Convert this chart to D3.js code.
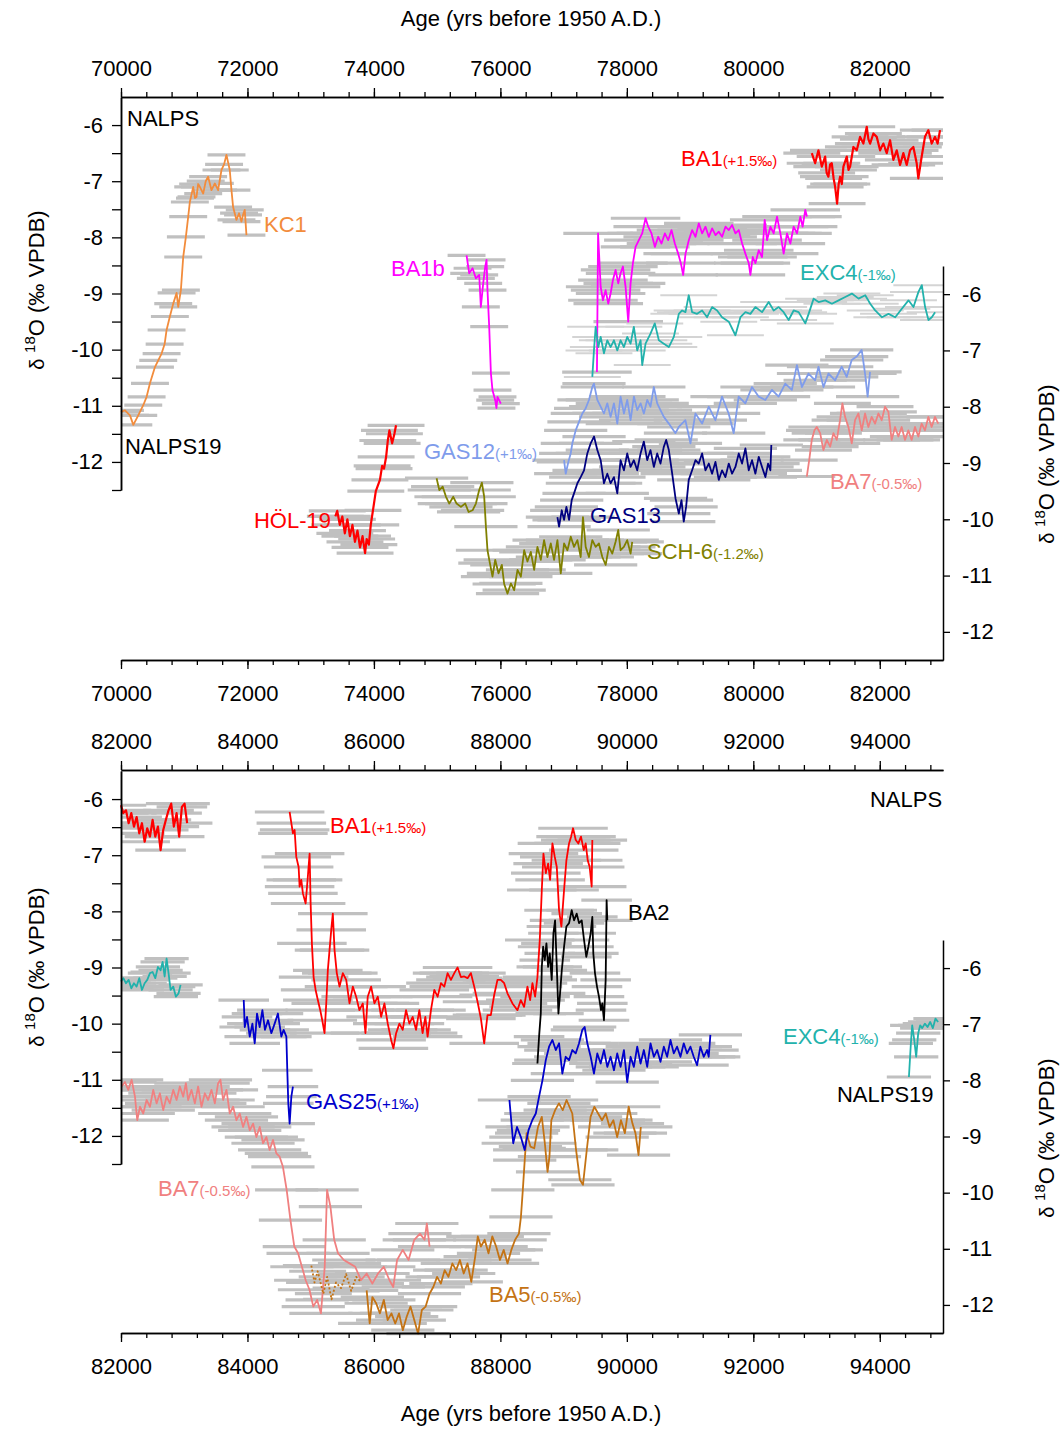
<!DOCTYPE html>
<html>
<head>
<meta charset="utf-8">
<script src="https://cdn.jsdelivr.net/npm/d3@7"></script>
<style>
  body { margin: 0; background: #fff; }
  svg { font-family: Arial, "Liberation Sans", sans-serif; }
</style>
</head>
<body>
<svg id="chart" width="1062" height="1432"></svg>
<script>
// all series are [age (yrs BP), d18O (permil VPDB)]

// ---------- upper panel (70-83 ka) ----------
const kc1 = [[70000,-11.11],[70063,-11.08],[70142,-11.17],[70195,-11.34],[70273,-11.17],[70352,-10.99],[70405,-10.84],[70458,-10.60],[70537,-10.31],[70589,-10.19],[70642,-10.07],[70690,-9.90],[70721,-9.65],[70773,-9.41],[70826,-9.18],[70879,-8.99],[70905,-9.24],[70947,-8.94],[70984,-8.35],[71026,-7.99],[71063,-7.63],[71089,-7.37],[71142,-7.10],[71170,-7.30],[71194,-7.28],[71220,-7.05],[71247,-7.10],[71300,-7.22],[71340,-7.00],[71378,-6.92],[71431,-7.16],[71484,-7.04],[71536,-7.16],[71589,-6.80],[71630,-6.70],[71668,-6.53],[71720,-6.80],[71747,-7.16],[71773,-7.46],[71826,-7.69],[71867,-7.57],[71905,-7.72],[71930,-7.60],[71957,-7.51],[71984,-7.96]]

const ba1bTop = [[75465,-8.32],[75507,-8.64],[75560,-8.55],[75612,-8.73],[75665,-8.67],[75691,-9.24],[75728,-8.82],[75760,-8.52],[75781,-8.40],[75796,-8.94],[75823,-9.59],[75850,-10.42],[75875,-10.72],[75918,-10.90],[75938,-11.04],[75954,-10.84],[76007,-10.96]]

const ba1bLate = [[77527,-10.40],[77545,-7.93],[77586,-8.88],[77622,-9.12],[77664,-8.94],[77706,-9.18],[77743,-9.00],[77780,-8.76],[77822,-8.58],[77864,-8.82],[77901,-8.64],[77938,-8.52],[77980,-8.88],[78022,-9.50],[78059,-8.82],[78096,-8.46],[78138,-8.17],[78190,-8.05],[78243,-7.93],[78296,-7.66],[78338,-7.81],[78390,-7.93],[78443,-8.17],[78496,-7.99],[78548,-8.11],[78601,-7.93],[78654,-8.05],[78706,-7.87],[78759,-8.11],[78812,-8.29],[78854,-8.46],[78891,-8.67],[78928,-8.29],[78980,-8.05],[79033,-7.87],[79086,-7.99],[79138,-7.75],[79191,-7.93],[79244,-7.81],[79296,-7.99],[79349,-7.84],[79402,-7.96],[79454,-7.90],[79507,-7.99],[79560,-7.81],[79612,-7.87],[79665,-7.78],[79718,-7.93],[79770,-7.87],[79823,-8.11],[79875,-8.29],[79928,-8.46],[79954,-8.67],[79991,-8.35],[80033,-8.46],[80086,-8.23],[80138,-8.35],[80180,-7.69],[80217,-8.05],[80270,-7.81],[80322,-7.93],[80375,-7.63],[80428,-7.93],[80480,-8.29],[80533,-7.93],[80586,-8.11],[80638,-7.81],[80691,-7.93],[80744,-7.63],[80780,-7.81],[80822,-7.51],[80848,-7.63]]

const ba1Top = [[80925,-6.50],[80978,-6.68],[81030,-6.45],[81083,-6.74],[81136,-6.56],[81160,-6.85],[81188,-6.92],[81215,-6.70],[81241,-6.68],[81270,-6.95],[81294,-7.10],[81325,-7.40],[81350,-7.05],[81373,-6.92],[81400,-7.05],[81425,-6.74],[81478,-6.56],[81505,-6.80],[81531,-6.74],[81583,-6.39],[81636,-6.45],[81689,-6.21],[81741,-6.33],[81794,-6.03],[81820,-6.25],[81847,-6.33],[81899,-6.15],[81952,-6.21],[82005,-6.45],[82057,-6.33],[82110,-6.50],[82163,-6.27],[82215,-6.62],[82268,-6.45],[82321,-6.71],[82373,-6.50],[82426,-6.71],[82479,-6.45],[82531,-6.39],[82584,-6.68],[82610,-6.95],[82663,-6.56],[82715,-6.21],[82768,-6.09],[82821,-6.33],[82874,-6.21],[82915,-6.33],[82953,-6.09]]

const hol19 = [[73390,-9.95],[73420,-9.85],[73460,-10.10],[73500,-9.95],[73540,-10.25],[73580,-10.00],[73620,-10.30],[73660,-10.10],[73700,-10.40],[73740,-10.20],[73780,-10.50],[73820,-10.30],[73860,-10.60],[73885,-10.35],[73920,-10.45],[73950,-10.10],[73985,-9.84],[74030,-9.50],[74095,-9.30],[74130,-9.05],[74160,-9.10],[74193,-8.89],[74220,-8.60],[74245,-8.42],[74288,-8.65],[74324,-8.48],[74350,-8.33]]

const sch6 = [[74991,-9.27],[75034,-9.48],[75087,-9.42],[75140,-9.60],[75192,-9.72],[75255,-9.60],[75307,-9.72],[75376,-9.78],[75444,-9.72],[75497,-9.87],[75560,-9.84],[75613,-9.72],[75665,-9.48],[75707,-9.35],[75744,-9.60],[75771,-10.13],[75796,-10.55],[75834,-10.78],[75875,-11.02],[75918,-10.72],[75970,-10.96],[76023,-10.81],[76060,-11.15],[76113,-11.32],[76166,-11.14],[76218,-11.26],[76271,-10.90],[76324,-11.02],[76376,-10.55],[76428,-10.75],[76481,-10.58],[76534,-10.90],[76586,-10.49],[76639,-10.72],[76691,-10.37],[76744,-10.67],[76797,-10.43],[76849,-10.72],[76902,-10.37],[76955,-10.96],[77007,-10.43],[77060,-10.55],[77113,-10.31],[77165,-10.49],[77218,-10.37],[77270,-10.67],[77306,-9.96],[77349,-10.49],[77401,-10.67],[77454,-10.37],[77507,-10.49],[77559,-10.43],[77612,-10.67],[77665,-10.81],[77717,-10.49],[77770,-10.61],[77822,-10.40],[77864,-10.19],[77901,-10.55],[77953,-10.49],[78006,-10.37],[78059,-10.61],[78085,-10.40]]

const gas12 = [[77007,-8.95],[77033,-9.19],[77075,-8.98],[77112,-8.83],[77138,-8.65],[77191,-8.42],[77243,-8.27],[77296,-8.12],[77348,-8.03],[77401,-7.88],[77454,-7.65],[77480,-7.59],[77533,-7.88],[77586,-8.00],[77638,-8.12],[77691,-7.94],[77743,-8.18],[77796,-7.94],[77849,-8.30],[77901,-7.82],[77954,-8.12],[78006,-7.88],[78059,-8.24],[78112,-7.82],[78164,-8.06],[78217,-7.94],[78269,-8.12],[78322,-7.88],[78374,-8.00],[78427,-7.65],[78480,-7.94],[78532,-8.06],[78585,-8.18],[78664,-8.30],[78769,-8.47],[78821,-8.36],[78926,-8.24],[79006,-8.65],[79085,-8.12],[79190,-8.30],[79295,-8.00],[79400,-8.24],[79505,-7.82],[79610,-8.12],[79690,-8.47],[79768,-7.82],[79874,-7.94],[79979,-7.65],[80084,-7.82],[80190,-7.88],[80295,-7.70],[80400,-7.82],[80505,-7.59],[80610,-7.70],[80689,-7.26],[80768,-7.65],[80873,-7.41],[80978,-7.53],[81031,-7.29],[81110,-7.65],[81188,-7.41],[81294,-7.53],[81398,-7.29],[81477,-7.47],[81556,-7.17],[81635,-7.11],[81714,-6.99],[81767,-7.41],[81808,-7.82],[81846,-7.38]]

const gas13 = [[76902,-9.96],[76928,-10.13],[76970,-9.84],[77007,-10.01],[77044,-9.78],[77086,-10.01],[77128,-9.66],[77165,-9.54],[77218,-9.36],[77270,-9.25],[77323,-9.13],[77375,-8.83],[77428,-8.65],[77481,-8.53],[77533,-8.77],[77586,-8.95],[77638,-9.36],[77691,-9.19],[77743,-9.36],[77796,-9.25],[77849,-9.54],[77901,-8.95],[77954,-9.13],[78006,-8.83],[78059,-9.07],[78111,-8.95],[78164,-9.13],[78217,-8.83],[78269,-8.62],[78322,-8.95],[78374,-8.77],[78427,-9.07],[78480,-8.83],[78532,-9.01],[78585,-8.71],[78622,-8.59],[78664,-8.77],[78717,-9.19],[78770,-9.63],[78822,-9.90],[78864,-9.66],[78900,-10.04],[78937,-9.78],[78979,-9.30],[79032,-9.13],[79085,-8.95],[79137,-9.01],[79190,-8.83],[79243,-9.13],[79296,-9.01],[79348,-9.19],[79401,-8.98],[79454,-9.30],[79506,-9.13],[79559,-9.25],[79612,-9.01],[79664,-9.19],[79717,-9.07],[79770,-8.83],[79822,-9.01],[79875,-8.74],[79928,-9.13],[79980,-8.95],[80033,-9.19],[80086,-8.89],[80138,-9.07],[80191,-9.25],[80233,-9.01],[80270,-9.13],[80285,-8.68]]

const exc4Top = [[77454,-7.47],[77480,-7.00],[77507,-6.58],[77549,-6.94],[77586,-6.76],[77638,-7.05],[77691,-6.82],[77743,-6.94],[77796,-6.82],[77849,-7.00],[77901,-6.82],[77954,-6.94],[78006,-6.76],[78059,-6.88],[78111,-6.58],[78164,-7.00],[78217,-6.82],[78243,-7.26],[78296,-6.88],[78374,-6.70],[78442,-6.52],[78506,-6.82],[78585,-6.88],[78664,-6.94],[78743,-6.76],[78822,-6.35],[78874,-6.29],[78927,-6.32],[78979,-6.02],[79032,-6.32],[79111,-6.35],[79190,-6.29],[79269,-6.41],[79348,-6.23],[79427,-6.29],[79506,-6.41],[79612,-6.49],[79717,-6.73],[79796,-6.41],[79875,-6.32],[79954,-6.35],[80033,-6.23],[80138,-6.32],[80243,-6.14],[80322,-6.29],[80401,-6.23],[80480,-6.32],[80559,-6.46],[80638,-6.29],[80717,-6.32],[80822,-6.52],[80875,-6.35],[80954,-6.08],[81033,-6.14],[81138,-6.11],[81243,-6.17],[81349,-6.11],[81454,-6.05],[81559,-5.99],[81665,-6.08],[81770,-6.02],[81849,-6.17],[81928,-6.29],[82033,-6.41],[82138,-6.35],[82244,-6.41],[82349,-6.26],[82454,-6.11],[82533,-6.23],[82612,-5.96],[82665,-5.84],[82717,-6.23],[82770,-6.46],[82823,-6.41],[82875,-6.32]]

const ba7Top = [[80846,-9.24],[80884,-8.95],[80925,-8.59],[80967,-8.42],[81004,-8.36],[81057,-8.47],[81109,-8.77],[81162,-8.59],[81215,-8.71],[81267,-8.47],[81320,-8.59],[81372,-8.24],[81409,-7.94],[81451,-8.18],[81504,-8.36],[81557,-8.65],[81609,-8.24],[81662,-8.12],[81715,-8.42],[81767,-8.12],[81820,-8.36],[81872,-8.18],[81925,-8.30],[81978,-8.12],[82030,-8.24],[82083,-8.00],[82136,-8.09],[82188,-8.59],[82241,-8.36],[82294,-8.53],[82346,-8.36],[82399,-8.59],[82452,-8.42],[82504,-8.59],[82557,-8.36],[82610,-8.53],[82662,-8.30],[82715,-8.42],[82768,-8.18],[82820,-8.36],[82873,-8.18],[82925,-8.30]]

// ---------- lower panel (82-95 ka) ----------
const ba1Early = [[82000,-6.11],[82036,-6.25],[82079,-6.20],[82121,-6.43],[82163,-6.25],[82205,-6.49],[82247,-6.32],[82289,-6.61],[82331,-6.43],[82374,-6.76],[82415,-6.52],[82458,-6.67],[82500,-6.37],[82542,-6.67],[82584,-6.49],[82626,-6.91],[82668,-6.55],[82710,-6.37],[82752,-6.20],[82794,-6.08],[82836,-6.49],[82879,-6.25],[82920,-6.67],[82963,-6.14],[83005,-6.08],[83046,-6.43]]

const ba1Late = [[84667,-6.23],[84694,-6.43],[84719,-6.61],[84746,-6.55],[84772,-7.03],[84809,-7.21],[84825,-7.56],[84851,-7.44],[84877,-7.68],[84920,-7.86],[84951,-7.44],[84983,-6.97],[84999,-7.86],[85019,-8.57],[85046,-9.17],[85078,-9.40],[85113,-9.58],[85151,-9.76],[85183,-9.94],[85219,-10.17],[85246,-9.64],[85271,-9.05],[85298,-8.69],[85325,-8.33],[85350,-8.04],[85377,-8.69],[85413,-9.10],[85456,-9.34],[85508,-9.10],[85562,-9.22],[85614,-9.64],[85666,-9.34],[85719,-9.52],[85771,-9.76],[85824,-9.64],[85866,-10.17],[85902,-9.52],[85956,-9.34],[86008,-9.64],[86061,-9.52],[86114,-9.88],[86166,-9.64],[86219,-10.00],[86272,-10.29],[86308,-10.44],[86351,-10.17],[86403,-10.00],[86455,-10.11],[86508,-9.76],[86561,-10.00],[86613,-9.88],[86666,-10.11],[86718,-9.76],[86770,-10.17],[86813,-9.88],[86849,-10.23],[86902,-9.76],[86955,-9.40],[87007,-9.52],[87060,-9.28],[87113,-9.34],[87165,-9.10],[87218,-9.22],[87271,-9.10],[87323,-9.00],[87376,-9.17],[87428,-9.16],[87481,-9.19],[87534,-9.10],[87586,-9.34],[87639,-9.61],[87692,-9.91],[87744,-10.35],[87796,-9.85],[87849,-9.85],[87902,-9.49],[87954,-9.22],[88007,-9.22],[88060,-9.28],[88112,-9.46],[88191,-9.64],[88270,-9.76],[88323,-9.58],[88375,-9.70],[88428,-9.34],[88470,-9.58],[88507,-9.28],[88549,-9.52],[88586,-9.17],[88623,-8.51],[88655,-7.62],[88681,-6.97],[88718,-7.32],[88755,-7.15],[88786,-7.44],[88823,-6.79],[88860,-7.03],[88892,-7.21],[88928,-7.98],[88965,-8.27],[89007,-7.62],[89044,-7.09],[89086,-6.79],[89118,-6.67],[89149,-6.52],[89192,-6.73],[89233,-6.79],[89275,-6.67],[89318,-6.91],[89349,-6.79],[89381,-7.09],[89412,-7.21],[89444,-7.56],[89454,-6.73]]

const ba2 = [[88586,-10.71],[88612,-10.23],[88639,-9.82],[88655,-8.99],[88676,-8.63],[88702,-8.87],[88728,-8.57],[88755,-8.99],[88781,-8.75],[88812,-9.22],[88839,-8.39],[88865,-8.16],[88892,-8.99],[88918,-9.82],[88944,-9.46],[88971,-9.05],[89007,-8.63],[89044,-8.27],[89086,-8.21],[89128,-7.98],[89165,-8.16],[89207,-8.04],[89244,-8.21],[89286,-8.16],[89323,-8.51],[89359,-8.81],[89391,-8.63],[89428,-8.39],[89454,-8.10],[89470,-8.75],[89496,-9.10],[89528,-9.34],[89559,-9.52],[89591,-9.76],[89612,-9.64],[89638,-9.94],[89665,-9.22],[89680,-7.80],[89691,-8.16]]

const exc4Early = [[82000,-6.24],[82037,-6.18],[82079,-6.27],[82121,-6.21],[82163,-6.36],[82205,-6.27],[82247,-6.33],[82289,-6.18],[82331,-6.39],[82374,-6.27],[82415,-6.21],[82458,-6.09],[82500,-6.07],[82542,-6.18],[82584,-5.98],[82626,-6.04],[82658,-5.89],[82690,-6.15],[82721,-5.83],[82752,-6.09],[82784,-6.39],[82826,-6.33],[82868,-6.51],[82910,-6.45],[82942,-6.30]]

const exc4Late = [[94461,-7.94],[94492,-7.34],[94513,-7.02],[94545,-7.28],[94576,-7.58],[94608,-7.16],[94639,-7.02],[94671,-7.07],[94713,-6.99],[94755,-7.05],[94797,-6.96],[94839,-7.07],[94881,-6.90],[94923,-6.96]]

const ba7Low = [[82011,-8.11],[82063,-8.03],[82115,-8.17],[82168,-7.99],[82221,-8.29],[82257,-8.71],[82300,-8.47],[82352,-8.59],[82405,-8.35],[82458,-8.47],[82510,-8.17],[82563,-8.41],[82615,-8.23],[82668,-8.53],[82721,-8.29],[82773,-8.41],[82826,-8.17],[82879,-8.35],[82931,-8.11],[82984,-8.29],[83026,-8.05],[83062,-8.35],[83115,-8.17],[83168,-8.41],[83220,-8.11],[83273,-8.47],[83326,-8.23],[83378,-8.35],[83431,-8.17],[83484,-8.41],[83536,-8.05],[83573,-7.99],[83615,-8.35],[83668,-8.17],[83720,-8.59],[83773,-8.47],[83826,-8.71],[83878,-8.59],[83931,-8.83],[83984,-8.65],[84036,-8.89],[84089,-8.77],[84141,-9.01],[84194,-8.83],[84246,-9.12],[84299,-9.01],[84351,-9.24],[84404,-9.06],[84457,-9.30],[84509,-9.36],[84561,-9.54],[84620,-9.95],[84680,-10.49],[84741,-10.96],[84801,-11.08],[84861,-11.32],[84921,-11.56],[84981,-11.73],[85041,-12.03],[85102,-11.91],[85162,-12.15],[85222,-11.32],[85259,-9.95],[85312,-10.25],[85372,-10.84],[85432,-11.08],[85524,-11.20],[85614,-11.26],[85704,-11.32],[85795,-11.56],[85885,-11.44],[85975,-11.62],[86065,-11.44],[86156,-11.32],[86246,-11.56],[86306,-11.68],[86366,-11.20],[86456,-11.02],[86548,-11.20],[86638,-10.84],[86728,-10.73],[86800,-10.84],[86837,-10.55],[86880,-10.96]]

const gas25Early = [[83941,-6.57],[83957,-7.05],[83993,-6.87],[84036,-7.22],[84078,-6.99],[84115,-7.34],[84151,-6.81],[84193,-7.05],[84236,-6.75],[84277,-7.10],[84325,-6.93],[84378,-7.16],[84430,-6.99],[84482,-6.81],[84536,-7.22],[84572,-7.10],[84615,-7.22],[84630,-7.82],[84646,-8.41],[84667,-8.77],[84694,-8.29],[84719,-8.11]]

const gas25Late = [[88143,-8.35],[88203,-9.12],[88263,-8.83],[88324,-9.01],[88384,-9.24],[88444,-8.89],[88504,-8.71],[88560,-8.59],[88612,-8.29],[88665,-8.00],[88718,-7.64],[88770,-7.40],[88823,-7.28],[88876,-7.46],[88928,-7.34],[88980,-7.88],[89033,-7.58],[89086,-7.64],[89138,-7.46],[89191,-7.52],[89244,-7.34],[89296,-7.10],[89333,-7.05],[89375,-7.34],[89428,-7.58],[89480,-7.88],[89533,-7.52],[89586,-7.70],[89638,-7.46],[89691,-7.76],[89743,-7.58],[89796,-7.82],[89848,-7.52],[89901,-7.76],[89954,-7.46],[90006,-8.03],[90059,-7.58],[90111,-7.76],[90164,-7.40],[90217,-7.70],[90269,-7.46],[90322,-7.76],[90374,-7.34],[90427,-7.58],[90479,-7.46],[90532,-7.67],[90585,-7.40],[90637,-7.58],[90690,-7.28],[90742,-7.52],[90795,-7.40],[90848,-7.58],[90900,-7.34],[90953,-7.52],[91006,-7.40],[91058,-7.58],[91111,-7.73],[91163,-7.40],[91216,-7.58],[91269,-7.46],[91295,-7.58],[91321,-7.19]]

const ba5 = [[85885,-11.74],[85933,-12.33],[85975,-11.86],[86035,-11.97],[86095,-12.15],[86157,-11.91],[86217,-12.27],[86277,-12.15],[86337,-12.33],[86397,-12.15],[86457,-12.45],[86518,-12.21],[86578,-12.03],[86638,-12.27],[86698,-12.51],[86758,-12.09],[86818,-12.03],[86879,-11.80],[86939,-11.68],[86999,-11.50],[87059,-11.62],[87119,-11.38],[87179,-11.50],[87240,-11.26],[87300,-11.38],[87360,-11.20],[87420,-11.44],[87480,-11.26],[87540,-11.59],[87601,-11.14],[87643,-10.78],[87692,-10.96],[87752,-10.84],[87812,-11.08],[87872,-10.78],[87933,-10.96],[87993,-11.20],[88053,-11.02],[88113,-11.26],[88173,-11.02],[88233,-10.84],[88293,-10.73],[88325,-10.43],[88355,-9.95],[88385,-9.42],[88415,-8.94],[88475,-9.18],[88535,-9.21],[88595,-8.83],[88655,-8.65],[88703,-9.12],[88746,-9.63],[88776,-9.36],[88806,-8.71],[88866,-8.53],[88926,-8.41],[88986,-8.53],[89047,-8.35],[89137,-8.59],[89197,-9.24],[89257,-9.77],[89306,-9.86],[89366,-9.24],[89426,-8.65],[89486,-8.47],[89546,-8.59],[89607,-8.71],[89667,-8.59],[89727,-8.83],[89787,-8.71],[89847,-9.01],[89907,-8.71],[89969,-8.94],[90029,-8.47],[90089,-8.77],[90136,-8.94],[90185,-9.33],[90221,-8.83]]

// short dotted BA5 piece below the BA7 trough
const ba5Dotted = [[85010,-11.30],[85060,-11.60],[85110,-11.40],[85200,-11.80],[85260,-11.50],[85330,-11.90],[85400,-11.60],[85480,-11.70],[85560,-11.45],[85640,-11.75],[85720,-11.50],[85800,-11.60]]

// tick values
const ageMajorStep = 2000
const ageMinorStep = 400
const leftTicks = [-12, -11, -10, -9, -8, -7, -6]
const leftHalfTicks = [-12.5, -11.5, -10.5, -9.5, -8.5, -7.5, -6.5]
const rightTicks = [-12, -11, -10, -9, -8, -7, -6]

// layout of the two stacked panels
const panels = [
  { ages: [70000, 83000], topY: 97, bottomY: 660, left: [490, 97], right: [660, 266] },
  { ages: [82000, 95000], topY: 770, bottomY: 1333, left: [1164, 771], right: [1333, 940] }
]
const plotLeft = 121
const plotRight = 943

// which panel / axis each record is drawn on, its colour and age error (yrs)
const series = [
  { panel: 0, axis: 'L', data: kc1, color: '#F28C3C', err: 300 },
  { panel: 0, axis: 'L', data: ba1bTop, color: '#FF00FF', err: 300 },
  { panel: 0, axis: 'L', data: ba1bLate, color: '#FF00FF', err: 550 },
  { panel: 0, axis: 'L', data: ba1Top, color: '#FF0000', err: 450, width: 2.2 },
  { panel: 0, axis: 'R', data: hol19, color: '#FF0000', err: 450, width: 2.2 },
  { panel: 0, axis: 'R', data: sch6, color: '#808000', err: 500 },
  { panel: 0, axis: 'R', data: gas12, color: '#7F9CEB', err: 500 },
  { panel: 0, axis: 'R', data: gas13, color: '#000080', err: 500 },
  { panel: 0, axis: 'R', data: exc4Top, color: '#22B2AC', err: 450, light: true },
  { panel: 0, axis: 'R', data: ba7Top, color: '#F08080', err: 450 },
  { panel: 1, axis: 'L', data: ba1Early, color: '#FF0000', err: 400, width: 2.2 },
  { panel: 1, axis: 'R', data: exc4Early, color: '#22B2AC', err: 350 },
  { panel: 1, axis: 'R', data: ba7Low, color: '#F08080', err: 500 },
  { panel: 1, axis: 'R', data: gas25Early, color: '#0000CC', err: 400 },
  { panel: 1, axis: 'R', data: ba5Dotted, color: '#C47314', err: 450, dash: '2,2' },
  { panel: 1, axis: 'R', data: ba5, color: '#C47314', err: 500 },
  { panel: 1, axis: 'L', data: ba1Late, color: '#FF0000', err: 550 },
  { panel: 1, axis: 'R', data: gas25Late, color: '#0000CC', err: 500 },
  { panel: 1, axis: 'L', data: ba2, color: '#000000', err: 400 },
  { panel: 1, axis: 'R', data: exc4Late, color: '#22B2AC', err: 350 }
]

// record names, anchored at [age, d18O] on the given axis
const labels = [
  { panel: 0, axis: 'L', at: [70095, -6.02], name: 'NALPS', shift: '', color: '#000' },
  { panel: 0, axis: 'L', at: [70063, -11.86], name: 'NALPS19', shift: '', color: '#000' },
  { panel: 0, axis: 'L', at: [72262, -7.91], name: 'KC1', shift: '', color: '#F28C3C' },
  { panel: 0, axis: 'L', at: [74270, -8.69], name: 'BA1b', shift: '', color: '#FF00FF' },
  { panel: 0, axis: 'L', at: [78857, -6.73], name: 'BA1', shift: '(+1.5‰)', color: '#FF0000' },
  { panel: 0, axis: 'L', at: [80739, -8.76], name: 'EXC4', shift: '(-1‰)', color: '#22B2AC' },
  { panel: 0, axis: 'L', at: [74792, -11.95], name: 'GAS12', shift: '(+1‰)', color: '#7F9CEB' },
  { panel: 0, axis: 'R', at: [72103, -10.16], name: 'HÖL-19', shift: '', color: '#FF0000' },
  { panel: 0, axis: 'R', at: [77417, -10.07], name: 'GAS13', shift: '', color: '#000080' },
  { panel: 0, axis: 'R', at: [78319, -10.71], name: 'SCH-6', shift: '(-1.2‰)', color: '#808000' },
  { panel: 0, axis: 'R', at: [81212, -9.46], name: 'BA7', shift: '(-0.5‰)', color: '#F08080' },
  { panel: 1, axis: 'L', at: [93845, -6.14], name: 'NALPS', shift: '', color: '#000' },
  { panel: 1, axis: 'L', at: [85305, -6.61], name: 'BA1', shift: '(+1.5‰)', color: '#FF0000' },
  { panel: 1, axis: 'L', at: [90018, -8.16], name: 'BA2', shift: '', color: '#000' },
  { panel: 1, axis: 'R', at: [92469, -7.35], name: 'EXC4', shift: '(-1‰)', color: '#22B2AC' },
  { panel: 1, axis: 'R', at: [93323, -8.39], name: 'NALPS19', shift: '', color: '#000' },
  { panel: 1, axis: 'R', at: [84926, -8.51], name: 'GAS25', shift: '(+1‰)', color: '#0000CC' },
  { panel: 1, axis: 'R', at: [82585, -10.06], name: 'BA7', shift: '(-0.5‰)', color: '#F08080' },
  { panel: 1, axis: 'R', at: [87820, -11.95], name: 'BA5', shift: '(-0.5‰)', color: '#C47314' }
]


const svg = d3.select('#chart')

const scales = panels.map(p => ({
  x: d3.scaleLinear().domain(p.ages).range([plotLeft, plotRight]),
  L: d3.scaleLinear().domain([-12.5, -5.5]).range(p.left),
  R: d3.scaleLinear().domain([-12.5, -5.5]).range(p.right)
}))

// clip so age error bars stop at the frame
panels.forEach((p, i) => {
  svg.append('clipPath').attr('id', 'clip' + i)
    .append('rect')
    .attr('x', plotLeft).attr('y', p.topY - 40)
    .attr('width', plotRight - plotLeft).attr('height', p.bottomY - p.topY + 80)
})

// gray age uncertainty bars first, then the records on top
const barLayer = svg.append('g')
const lineLayer = svg.append('g')

series.forEach(s => {
  const sc = scales[s.panel]
  const y = sc[s.axis]
  barLayer.append('g')
    .attr('clip-path', `url(#clip${s.panel})`)
    .selectAll('line')
    .data(s.data)
    .join('line')
      .attr('x1', d => sc.x(d[0] - s.err))
      .attr('x2', d => sc.x(d[0] + s.err))
      .attr('y1', d => y(d[1]))
      .attr('y2', d => y(d[1]))
      .attr('stroke', s.light ? '#d4d4d4' : '#c0c0c0')
      .attr('stroke-width', s.light ? 2 : 3.2)

  const line = d3.line().x(d => sc.x(d[0])).y(d => y(d[1]))
  lineLayer.append('path')
    .datum(s.data)
    .attr('d', line)
    .attr('fill', 'none')
    .attr('stroke', s.color)
    .attr('stroke-width', s.width || 1.8)
    .attr('stroke-dasharray', s.dash || null)
    .attr('stroke-linejoin', 'round')
})

// axes
const styleAxis = g => {
  g.select('.domain').attr('stroke', '#000').attr('stroke-width', 1.5)
  g.selectAll('.tick line').attr('stroke', '#000').attr('stroke-width', 1.3)
  g.selectAll('.tick text').attr('font-size', 22).attr('fill', '#000')
    .attr('font-family', 'Arial, "Liberation Sans", sans-serif')
}

panels.forEach((p, i) => {
  const sc = scales[i]
  const majors = d3.range(p.ages[0], p.ages[1] + 1, ageMajorStep)
  const minors = d3.range(p.ages[0], p.ages[1] + 1, ageMinorStep)

  // top age axis, ticks pointing up
  svg.append('g').attr('transform', `translate(0,${p.topY})`)
    .call(d3.axisTop(sc.x).tickValues(minors).tickSize(5).tickSizeOuter(0).tickFormat(''))
    .call(styleAxis)
  svg.append('g').attr('transform', `translate(0,${p.topY})`)
    .call(d3.axisTop(sc.x).tickValues(majors).tickSize(9).tickSizeOuter(0).tickPadding(12).tickFormat(d3.format('d')))
    .call(styleAxis)

  // bottom age axis, ticks pointing down
  svg.append('g').attr('transform', `translate(0,${p.bottomY})`)
    .call(d3.axisBottom(sc.x).tickValues(minors).tickSize(5).tickSizeOuter(0).tickFormat(''))
    .call(styleAxis)
  svg.append('g').attr('transform', `translate(0,${p.bottomY})`)
    .call(d3.axisBottom(sc.x).tickValues(majors).tickSize(9).tickSizeOuter(0).tickPadding(16).tickFormat(d3.format('d')))
    .call(styleAxis)

  // left d18O axis
  svg.append('g').attr('transform', `translate(${plotLeft},0)`)
    .call(d3.axisLeft(sc.L).tickValues(leftHalfTicks).tickSize(9).tickSizeOuter(0).tickFormat(''))
    .call(styleAxis)
  svg.append('g').attr('transform', `translate(${plotLeft},0)`)
    .call(d3.axisLeft(sc.L).tickValues(leftTicks).tickSize(9).tickSizeOuter(0).tickPadding(9).tickFormat(d => String(d)))
    .call(styleAxis)

  // right d18O axis
  svg.append('g').attr('transform', `translate(${plotRight},0)`)
    .call(d3.axisRight(sc.R).tickValues(rightTicks).tickSize(7).tickSizeOuter(0).tickPadding(12).tickFormat(d => String(d)))
    .call(styleAxis)
})

// record names
labels.forEach(l => {
  const sc = scales[l.panel]
  const t = svg.append('text')
    .attr('x', sc.x(l.at[0]))
    .attr('y', sc[l.axis](l.at[1]))
    .attr('fill', l.color)
    .attr('font-size', 22)
  t.append('tspan').text(l.name)
  if (l.shift) t.append('tspan').attr('font-size', 15).text(l.shift)
})

// axis titles
const ageTitle = 'Age (yrs before 1950 A.D.)'
svg.append('text').attr('x', 531).attr('y', 26).attr('text-anchor', 'middle')
  .attr('font-size', 22).text(ageTitle)
svg.append('text').attr('x', 531).attr('y', 1421).attr('text-anchor', 'middle')
  .attr('font-size', 22).text(ageTitle)

const d18Title = (x, y) => {
  const t = svg.append('text')
    .attr('transform', `translate(${x},${y}) rotate(-90)`)
    .attr('text-anchor', 'middle')
    .attr('font-size', 22)
  t.append('tspan').attr('font-size', 20).text('δ ')
  t.append('tspan').attr('font-size', 15).attr('dy', -9).text('18')
  t.append('tspan').attr('dy', 9).text('O (‰ VPDB)')
}
d18Title(44, 290)
d18Title(44, 967)
d18Title(1054, 464)
d18Title(1054, 1138)
</script>
</body>
</html>
